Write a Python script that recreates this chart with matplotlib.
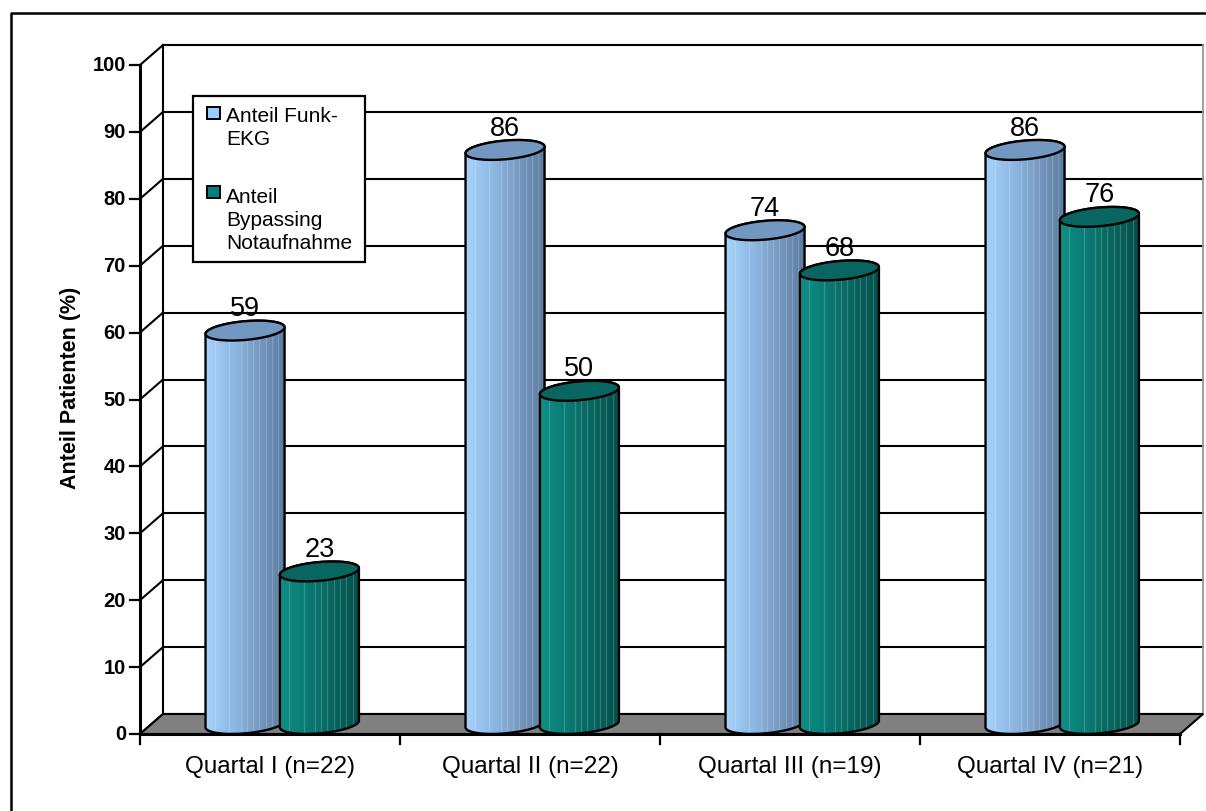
import numpy as np
import matplotlib
matplotlib.use("Agg")
import matplotlib.pyplot as plt
from matplotlib.patches import Polygon, PathPatch, Rectangle
from matplotlib.path import Path
from matplotlib.colors import LinearSegmentedColormap

plt.rcParams["font.family"] = ["Liberation Sans", "DejaVu Sans"]

# ---------------------------
# Daten
# ---------------------------
categories = ["Quartal I (n=22)", "Quartal II (n=22)",
              "Quartal III (n=19)", "Quartal IV (n=21)"]
funk_ekg = [59, 86, 74, 86]
bypassing = [23, 50, 68, 76]
y_ticks = list(range(0, 101, 10))
legend_lines = [["Anteil Funk-", "EKG"], ["Anteil", "Bypassing", "Notaufnahme"]]

# ---------------------------
# Geometrie (Pixel -> Datenkoordinaten)
# ---------------------------
W, H = 1206, 812
X0_PX, CAT_PX = 140, 260        # linke Achse, Breite einer Kategorie
Y0_PX, UNIT_PX = 735, 6.69      # Nulllinie von oben, Pixel pro Prozent
DX, DY = 23 / CAT_PX, 20 / UNIT_PX   # Tiefenversatz der Rückwand

A = 0.152           # halbe Zylinderbreite
B = 1.4             # kleine Halbachse der Ellipse
T = 0.5             # Neigung der Ellipse
BASE = 1.5          # Zylinder stehen mitten auf dem Boden
TOP_SHIFT = 1.3     # Mittelpunkt der Deckellipse über dem Wert
OFFSETS = [-0.096, 0.19]

blue_cmap = LinearSegmentedColormap.from_list(
    "blau", ["#a6d2fc", "#8fb9e4", "#7699c0", "#5a7a9e"])
green_cmap = LinearSegmentedColormap.from_list(
    "gruen", ["#0e8f86", "#0a7b73", "#07645e", "#044f4b"])
top_colors = ["#7297c0", "#09655f"]
cmaps = [blue_cmap, green_cmap]
stripe_fracs = [0.12, 0.3, 0.45, 0.52, 0.6, 0.68, 0.76, 0.84, 0.92]

fig = plt.figure(figsize=(W / 100, H / 100), dpi=100)
ax = fig.add_axes([0, 0, 1, 1])
ax.set_xlim(-0.5 - X0_PX / CAT_PX, -0.5 + (W - X0_PX) / CAT_PX)
ax.set_ylim(-(H - Y0_PX) / UNIT_PX, Y0_PX / UNIT_PX)
ax.axis("off")

n = len(categories)
xl, xr = -0.5, n - 0.5
top = y_ticks[-1]

# Rahmen um das Diagramm
ax.plot([11 / W, 11 / W, 1], [0, 1 - 14 / H, 1 - 14 / H], color="black",
        lw=1.8, transform=ax.transAxes, clip_on=False)

# Rückwand-Gitter, Seitenwand und Skala
for v in y_ticks:
    ax.plot([xl + DX, xr + DX], [v + DY, v + DY], color="black", lw=1.5, zorder=1)
    ax.plot([xl, xl + DX], [v, v + DY], color="black", lw=1.5, zorder=1)
    ax.plot([xl - 10 / CAT_PX, xl], [v, v], color="black", lw=1.6, zorder=1)
    ax.text(xl - 14 / CAT_PX, v, str(v), ha="right", va="center",
            fontsize=14.5, fontweight="bold")
ax.plot([xl + DX, xl + DX], [DY, top + DY], color="black", lw=1.5, zorder=1)
ax.plot([xr + DX, xr + DX], [DY, top + DY], color="#9a9a9a", lw=1.3, zorder=1)
ax.plot([xl, xl], [0, top], color="black", lw=2.2, zorder=2)

# Boden
ax.add_patch(Polygon([(xl, 0), (xr, 0), (xr + DX, DY), (xl + DX, DY)],
                     closed=True, fc="#808080", ec="black", lw=1.5, zorder=2))
ax.plot([xl, xr], [0, 0], color="black", lw=2.2, zorder=2.5)
for i in range(n + 1):
    ax.plot([xl + i, xl + i], [0, -10 / UNIT_PX], color="black", lw=1.6, zorder=2.5)
for i, cat in enumerate(categories):
    ax.text(i, -4.8, cat, ha="center", va="center", fontsize=17.5)


def ellipse(cx, cy, t):
    return cx + A * np.cos(t), cy + B * np.sin(t) + T * np.cos(t)


def cylinder(cx, value, cmap, top_color, z):
    ytop = TOP_SHIFT + value
    bx, by = ellipse(cx, BASE, np.linspace(np.pi, 2 * np.pi, 60))
    tx, ty = ellipse(cx, ytop, np.linspace(0, np.pi, 60))
    verts = list(zip(bx, by)) + list(zip(tx, ty)) + [(bx[0], by[0])]
    codes = [Path.MOVETO] + [Path.LINETO] * (len(verts) - 2) + [Path.CLOSEPOLY]
    body = PathPatch(Path(verts, codes), fc="none", ec="black", lw=1.7, zorder=z + 0.02)
    ax.add_patch(body)
    grad = np.linspace(0, 1, 256).reshape(1, -1)
    im = ax.imshow(grad, cmap=cmap, aspect="auto", interpolation="bilinear",
                   extent=(cx - A, cx + A, BASE - B - T, ytop + B + T), zorder=z)
    im.set_clip_path(body)
    for f in stripe_fracs:
        xs = cx - A + 2 * A * f
        ln, = ax.plot([xs, xs], [BASE - B - T, ytop], color="white",
                      lw=0.9, alpha=0.18, zorder=z + 0.01)
        ln.set_clip_path(body)
    ex, ey = ellipse(cx, ytop, np.linspace(0, 2 * np.pi, 120))
    ax.add_patch(Polygon(np.column_stack([ex, ey]), closed=True, fc=top_color,
                         ec="black", lw=1.7, zorder=z + 0.03))
    ax.text(cx, value + 3.6, str(value), ha="center", va="baseline",
            fontsize=19.5, zorder=z + 0.04)


z = 3
for i in range(n):
    for k, values in enumerate([funk_ekg, bypassing]):
        cylinder(i + OFFSETS[k], values[i], cmaps[k], top_colors[k], z)
        z += 0.1

# Legende
ax.add_patch(Rectangle((193 / W, 1 - 263 / H), 172 / W, 166 / H,
                       transform=ax.transAxes, fc="white", ec="black",
                       lw=1.6, zorder=10))
marker_colors = ["#99ccff", "#008080"]
marker_tops = [108, 187]
baselines = [[122, 145], [203, 226, 249]]
for k in range(2):
    ax.add_patch(Rectangle((207 / W, 1 - (marker_tops[k] + 12) / H), 13 / W, 12 / H,
                           transform=ax.transAxes, fc=marker_colors[k],
                           ec="black", lw=1.4, zorder=11))
    for line, yb in zip(legend_lines[k], baselines[k]):
        ax.text(226 / W, 1 - yb / H, line, transform=ax.transAxes,
                ha="left", va="baseline", fontsize=15, zorder=11)

# Achsentitel
ax.text(xl - 70 / CAT_PX, 51.9, "Anteil Patienten (%)", rotation=90,
        ha="center", va="center", fontsize=15.5, fontweight="bold")

fig.savefig("out.png", dpi=100)
plt.close(fig)
